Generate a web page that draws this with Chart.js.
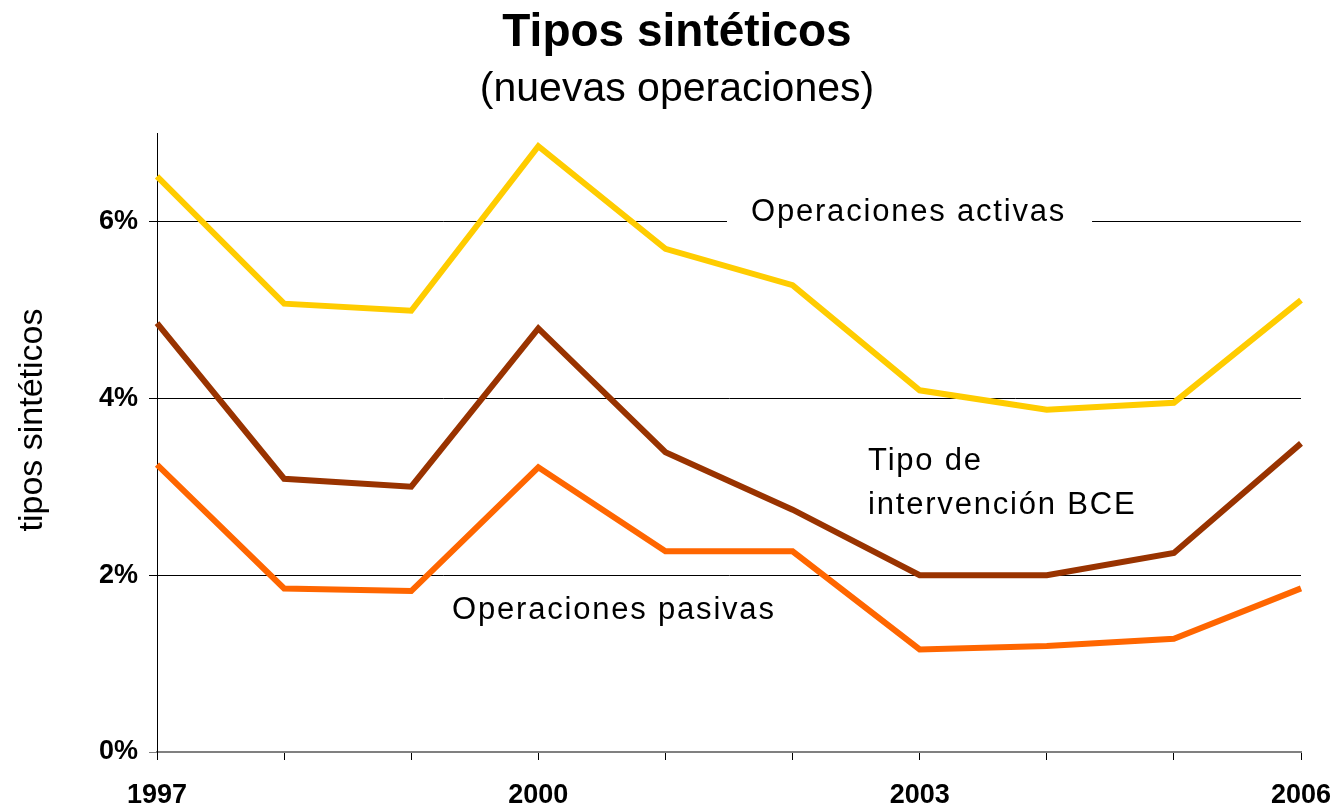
<!DOCTYPE html>
<html>
<head>
<meta charset="utf-8">
<title>Tipos sintéticos</title>
<script src="https://cdn.jsdelivr.net/npm/chart.js@4"></script>
<style>
  body { margin: 0; background: #fff; }
  #wrap { width: 1335px; height: 806px; }
</style>
</head>
<body>
<div id="wrap"><canvas id="chart" width="1335" height="806"></canvas></div>
<script>
// data
var years = ['1997', '1998', '1999', '2000', '2001', '2002', '2003', '2004', '2005', '2006'];
var activas = [6.51, 5.07, 4.99, 6.85, 5.69, 5.28, 4.09, 3.87, 3.95, 5.11];
var bce = [4.85, 3.09, 3.00, 4.79, 3.39, 2.74, 2.00, 2.00, 2.25, 3.49];
var pasivas = [3.25, 1.85, 1.82, 3.22, 2.27, 2.27, 1.16, 1.20, 1.28, 1.85];
var yTicks = [0, 2, 4, 6];

var FONT = '"Liberation Sans", Arial, sans-serif';

// text labels next to the lines (x = category index, y = percent)
var lineLabels = [
    { text: 'Operaciones activas', x: 4.673, y: 6.107, box: true },
    { text: 'Tipo de', x: 5.594, y: 3.291 },
    { text: 'intervención BCE', x: 5.594, y: 2.793 },
    { text: 'Operaciones pasivas', x: 2.321, y: 1.606 }
];

var labelPlugin = {
    id: 'lineLabels',
    beforeDatasetsDraw: function (chart) {
        var ctx = chart.ctx;
        var xs = chart.scales.x, ys = chart.scales.y;
        ctx.save();
        ctx.font = '31px ' + FONT;
        ctx.letterSpacing = '1.8px';
        ctx.textBaseline = 'middle';
        ctx.textAlign = 'left';
        lineLabels.forEach(function (l) {
            var px = xs.getPixelForValue(l.x);
            var py = ys.getPixelForValue(l.y);
            if (l.box) { // white box hides the gridline behind the text
                var w = ctx.measureText(l.text).width;
                ctx.fillStyle = '#fff';
                ctx.fillRect(px - 24, py - 18, w + 50, 36);
            }
            ctx.fillStyle = '#000';
            ctx.fillText(l.text, px, py);
        });
        ctx.restore();
    }
};

// title, subtitle and y axis title, placed like in the original
var titlePlugin = {
    id: 'titles',
    afterDraw: function (chart) {
        var ctx = chart.ctx;
        ctx.save();
        ctx.fillStyle = '#000';
        ctx.textAlign = 'center';
        ctx.textBaseline = 'middle';
        ctx.font = 'bold 46px ' + FONT;
        ctx.fillText('Tipos sintéticos', 677, 33);
        ctx.font = '41px ' + FONT;
        ctx.fillText('(nuevas operaciones)', 677, 90);
        ctx.translate(33, 420);
        ctx.rotate(-Math.PI / 2);
        ctx.font = '34px ' + FONT;
        ctx.fillText('tipos sintéticos', 0, 0);
        ctx.restore();
    }
};

var ctx = document.getElementById('chart');
var chart = new Chart(ctx, {
    type: 'line',
    data: {
        labels: years,
        datasets: [
            { label: 'Operaciones activas', data: activas, borderColor: '#FFCC00' },
            { label: 'Tipo de intervención BCE', data: bce, borderColor: '#993300' },
            { label: 'Operaciones pasivas', data: pasivas, borderColor: '#FF6600' }
        ]
    },
    options: {
        responsive: false,
        animation: false,
        devicePixelRatio: 1,
        layout: { padding: { left: 0, right: 34, top: 133, bottom: 0 } },
        elements: {
            line: { borderWidth: 6, tension: 0, borderJoinStyle: 'miter', fill: false },
            point: { radius: 0, hoverRadius: 0 }
        },
        plugins: {
            legend: { display: false },
            tooltip: { enabled: false },
            title: { display: false },
            subtitle: { display: false }
        },
        scales: {
            x: {
                afterFit: function (axis) {
                    axis.height = 54;
                    axis.paddingLeft = 0;
                    axis.paddingRight = 0;
                },
                grid: { drawOnChartArea: false, drawTicks: true, tickLength: 8, color: '#000' },
                border: { color: '#808080', width: 2 },
                ticks: {
                    autoSkip: false,
                    maxRotation: 0,
                    padding: 22,
                    color: '#000',
                    font: { family: FONT, size: 27, weight: 'bold', lineHeight: 1 },
                    callback: function (v, i) { return i % 3 === 0 ? years[i] : ''; }
                }
            },
            y: {
                min: 0,
                max: 7,
                afterBuildTicks: function (axis) {
                    axis.ticks = yTicks.map(function (v) { return { value: v }; });
                },
                afterFit: function (axis) {
                    axis.width = 157;
                    axis.paddingTop = 0;
                    axis.paddingBottom = 0;
                },
                grid: {
                    tickLength: 8,
                    color: function (c) { return c.tick && c.tick.value === 0 ? '#808080' : '#000'; }
                },
                border: { color: '#000', width: 1 },
                ticks: {
                    padding: 11,
                    color: '#000',
                    font: { family: FONT, size: 27, weight: 'bold', lineHeight: 1.2 },
                    callback: function (v) { return v + '%'; }
                }
            }
        }
    },
    plugins: [labelPlugin, titlePlugin]
});
</script>
</body>
</html>
